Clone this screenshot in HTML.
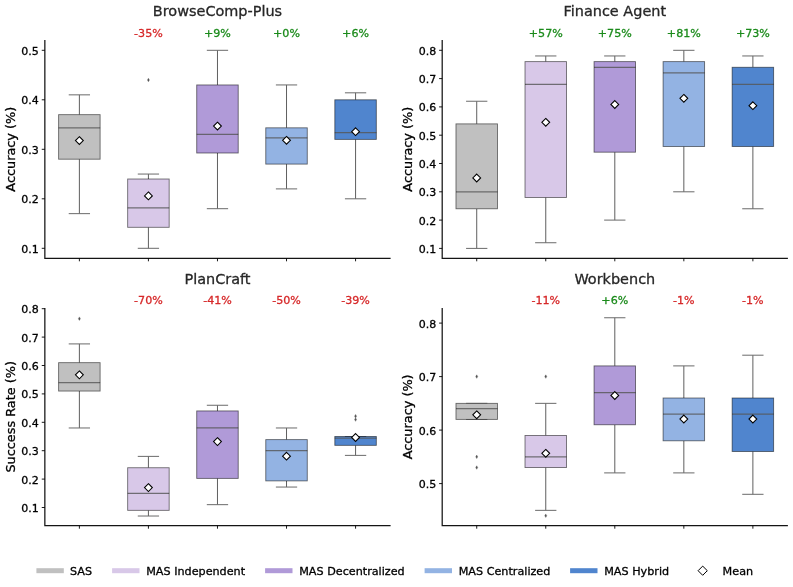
<!DOCTYPE html>
<html lang="en">
<head>
<meta charset="utf-8">
<title>Multi-agent system benchmark comparison</title>
<style>
html,body{margin:0;padding:0;background:#ffffff;}
body{width:793px;height:587px;overflow:hidden;font-family:"DejaVu Sans", "Liberation Sans", sans-serif;}
svg{display:block;}
</style>
</head>
<body>
<svg width="793" height="587" viewBox="0 0 793 587" font-family='"DejaVu Sans", "Liberation Sans", sans-serif'>
<style>text{stroke-width:0.3px;paint-order:stroke;}</style>
<rect width="793" height="587" fill="#ffffff"/>
<g>
<text x="217.48" y="16.3" font-size="14.45" text-anchor="middle" fill="#262626" stroke="#262626">BrowseComp-Plus</text>
<text x="148.42" y="36.55" font-size="11.1" text-anchor="middle" fill="#d62728" stroke="#d62728">-35%</text>
<text x="217.47" y="36.55" font-size="11.1" text-anchor="middle" fill="#1a8a1a" stroke="#1a8a1a">+9%</text>
<text x="286.52" y="36.55" font-size="11.1" text-anchor="middle" fill="#1a8a1a" stroke="#1a8a1a">+0%</text>
<text x="355.57" y="36.55" font-size="11.1" text-anchor="middle" fill="#1a8a1a" stroke="#1a8a1a">+6%</text>
<path d="M79.38 114.65V94.85M79.38 159.2V213.65" stroke="#4d4d4d" stroke-width="0.9" fill="none"/>
<path d="M68.72 94.85H90.03M68.72 213.65H90.03" stroke="#6a6a6a" stroke-width="1" fill="none"/>
<rect x="58.62" y="114.65" width="41.5" height="44.55" fill="#C0C0C0"/>
<path d="M58.62 127.82H100.12" stroke="#555555" stroke-opacity="0.8" stroke-width="1.25" fill="none"/>
<rect x="58.62" y="114.65" width="41.5" height="44.55" fill="none" stroke="#000000" stroke-opacity="0.55" stroke-width="0.9"/>
<path d="M79.38 136.69L83.28 140.59L79.38 144.49L75.47 140.59Z" fill="#ffffff" stroke="#000000" stroke-width="1.08"/>
<path d="M148.42 179V174.05M148.42 227.31V248.3" stroke="#4d4d4d" stroke-width="0.9" fill="none"/>
<path d="M137.77 174.05H159.07M137.77 248.3H159.07" stroke="#6a6a6a" stroke-width="1" fill="none"/>
<rect x="127.67" y="179" width="41.5" height="48.31" fill="#D8C8E8"/>
<path d="M127.67 207.91H169.17" stroke="#555555" stroke-opacity="0.8" stroke-width="1.25" fill="none"/>
<rect x="127.67" y="179" width="41.5" height="48.31" fill="none" stroke="#000000" stroke-opacity="0.55" stroke-width="0.9"/>
<path d="M148.42 78.25L149.42 80L148.42 81.75L147.42 80Z" fill="#555555" stroke="#555555" stroke-width="0.35"/>
<path d="M148.42 191.98L152.32 195.88L148.42 199.78L144.52 195.88Z" fill="#ffffff" stroke="#000000" stroke-width="1.08"/>
<path d="M217.47 84.95V50.3M217.47 153.01V208.7" stroke="#4d4d4d" stroke-width="0.9" fill="none"/>
<path d="M206.82 50.3H228.12M206.82 208.7H228.12" stroke="#6a6a6a" stroke-width="1" fill="none"/>
<rect x="196.72" y="84.95" width="41.5" height="68.06" fill="#B09AD8"/>
<path d="M196.72 134.45H238.22" stroke="#555555" stroke-opacity="0.8" stroke-width="1.25" fill="none"/>
<rect x="196.72" y="84.95" width="41.5" height="68.06" fill="none" stroke="#000000" stroke-opacity="0.55" stroke-width="0.9"/>
<path d="M217.47 122.14L221.38 126.04L217.47 129.94L213.57 126.04Z" fill="#ffffff" stroke="#000000" stroke-width="1.08"/>
<path d="M286.52 127.82V84.95M286.52 164.1V188.9" stroke="#4d4d4d" stroke-width="0.9" fill="none"/>
<path d="M275.88 84.95H297.17M275.88 188.9H297.17" stroke="#6a6a6a" stroke-width="1" fill="none"/>
<rect x="265.77" y="127.82" width="41.5" height="36.28" fill="#93B3E3"/>
<path d="M265.77 137.82H307.27" stroke="#555555" stroke-opacity="0.8" stroke-width="1.25" fill="none"/>
<rect x="265.77" y="127.82" width="41.5" height="36.28" fill="none" stroke="#000000" stroke-opacity="0.55" stroke-width="0.9"/>
<path d="M286.52 136.39L290.42 140.29L286.52 144.19L282.62 140.29Z" fill="#ffffff" stroke="#000000" stroke-width="1.08"/>
<path d="M355.57 99.8V92.82M355.57 139.4V198.8" stroke="#4d4d4d" stroke-width="0.9" fill="none"/>
<path d="M344.93 92.82H366.22M344.93 198.8H366.22" stroke="#6a6a6a" stroke-width="1" fill="none"/>
<rect x="334.82" y="99.8" width="41.5" height="39.6" fill="#5085CE"/>
<path d="M334.82 132.72H376.32" stroke="#555555" stroke-opacity="0.8" stroke-width="1.25" fill="none"/>
<rect x="334.82" y="99.8" width="41.5" height="39.6" fill="none" stroke="#000000" stroke-opacity="0.55" stroke-width="0.9"/>
<path d="M355.57 127.78L359.47 131.68L355.57 135.58L351.68 131.68Z" fill="#ffffff" stroke="#000000" stroke-width="1.08"/>
<path d="M44.85 40.1V258.3H390.6" stroke="#141414" stroke-width="1.25" fill="none" stroke-linecap="butt" stroke-linejoin="miter"/>
<path d="M79.38 258.3v3.0M148.42 258.3v3.0M217.47 258.3v3.0M286.52 258.3v3.0M355.57 258.3v3.0M44.85 248.3h-3.1M44.85 198.8h-3.1M44.85 149.3h-3.1M44.85 99.8h-3.1M44.85 50.3h-3.1" stroke="#000000" stroke-width="0.9" fill="none"/>
<text x="38.85" y="252.7" font-size="11.0" text-anchor="end" fill="#000000" stroke="#000000">0.1</text>
<text x="38.85" y="203.2" font-size="11.0" text-anchor="end" fill="#000000" stroke="#000000">0.2</text>
<text x="38.85" y="153.7" font-size="11.0" text-anchor="end" fill="#000000" stroke="#000000">0.3</text>
<text x="38.85" y="104.2" font-size="11.0" text-anchor="end" fill="#000000" stroke="#000000">0.4</text>
<text x="38.85" y="54.7" font-size="11.0" text-anchor="end" fill="#000000" stroke="#000000">0.5</text>
<text transform="translate(15.2 149.2) rotate(-90)" x="0" y="0" font-size="12.85" text-anchor="middle" fill="#000000" stroke="#000000">Accuracy (%)</text>
</g>
<g>
<text x="614.8" y="16.3" font-size="14.45" text-anchor="middle" fill="#262626" stroke="#262626">Finance Agent</text>
<text x="545.76" y="36.55" font-size="11.1" text-anchor="middle" fill="#1a8a1a" stroke="#1a8a1a">+57%</text>
<text x="614.8" y="36.55" font-size="11.1" text-anchor="middle" fill="#1a8a1a" stroke="#1a8a1a">+75%</text>
<text x="683.84" y="36.55" font-size="11.1" text-anchor="middle" fill="#1a8a1a" stroke="#1a8a1a">+81%</text>
<text x="752.88" y="36.55" font-size="11.1" text-anchor="middle" fill="#1a8a1a" stroke="#1a8a1a">+73%</text>
<path d="M476.72 123.88V101.24M476.72 208.78V248.4" stroke="#4d4d4d" stroke-width="0.9" fill="none"/>
<path d="M466.07 101.24H487.37M466.07 248.4H487.37" stroke="#6a6a6a" stroke-width="1" fill="none"/>
<rect x="455.97" y="123.88" width="41.5" height="84.9" fill="#C0C0C0"/>
<path d="M455.97 191.8H497.47" stroke="#555555" stroke-opacity="0.8" stroke-width="1.25" fill="none"/>
<rect x="455.97" y="123.88" width="41.5" height="84.9" fill="none" stroke="#000000" stroke-opacity="0.55" stroke-width="0.9"/>
<path d="M476.72 174.09L480.62 177.99L476.72 181.89L472.82 177.99Z" fill="#ffffff" stroke="#000000" stroke-width="1.08"/>
<path d="M545.76 61.62V55.96M545.76 197.46V242.74" stroke="#4d4d4d" stroke-width="0.9" fill="none"/>
<path d="M535.11 55.96H556.41M535.11 242.74H556.41" stroke="#6a6a6a" stroke-width="1" fill="none"/>
<rect x="525.01" y="61.62" width="41.5" height="135.84" fill="#D8C8E8"/>
<path d="M525.01 84.26H566.51" stroke="#555555" stroke-opacity="0.8" stroke-width="1.25" fill="none"/>
<rect x="525.01" y="61.62" width="41.5" height="135.84" fill="none" stroke="#000000" stroke-opacity="0.55" stroke-width="0.9"/>
<path d="M545.76 118.4L549.66 122.3L545.76 126.2L541.86 122.3Z" fill="#ffffff" stroke="#000000" stroke-width="1.08"/>
<path d="M614.8 61.62V55.96M614.8 152.18V220.1" stroke="#4d4d4d" stroke-width="0.9" fill="none"/>
<path d="M604.15 55.96H625.45M604.15 220.1H625.45" stroke="#6a6a6a" stroke-width="1" fill="none"/>
<rect x="594.05" y="61.62" width="41.5" height="90.56" fill="#B09AD8"/>
<path d="M594.05 67.28H635.55" stroke="#555555" stroke-opacity="0.8" stroke-width="1.25" fill="none"/>
<rect x="594.05" y="61.62" width="41.5" height="90.56" fill="none" stroke="#000000" stroke-opacity="0.55" stroke-width="0.9"/>
<path d="M614.8 100.59L618.7 104.49L614.8 108.39L610.9 104.49Z" fill="#ffffff" stroke="#000000" stroke-width="1.08"/>
<path d="M683.84 61.62V50.3M683.84 146.52V191.8" stroke="#4d4d4d" stroke-width="0.9" fill="none"/>
<path d="M673.19 50.3H694.49M673.19 191.8H694.49" stroke="#6a6a6a" stroke-width="1" fill="none"/>
<rect x="663.09" y="61.62" width="41.5" height="84.9" fill="#93B3E3"/>
<path d="M663.09 72.94H704.59" stroke="#555555" stroke-opacity="0.8" stroke-width="1.25" fill="none"/>
<rect x="663.09" y="61.62" width="41.5" height="84.9" fill="none" stroke="#000000" stroke-opacity="0.55" stroke-width="0.9"/>
<path d="M683.84 94.4L687.74 98.3L683.84 102.2L679.94 98.3Z" fill="#ffffff" stroke="#000000" stroke-width="1.08"/>
<path d="M752.88 67.28V55.96M752.88 146.52V208.78" stroke="#4d4d4d" stroke-width="0.9" fill="none"/>
<path d="M742.23 55.96H763.53M742.23 208.78H763.53" stroke="#6a6a6a" stroke-width="1" fill="none"/>
<rect x="732.13" y="67.28" width="41.5" height="79.24" fill="#5085CE"/>
<path d="M732.13 84.26H773.63" stroke="#555555" stroke-opacity="0.8" stroke-width="1.25" fill="none"/>
<rect x="732.13" y="67.28" width="41.5" height="79.24" fill="none" stroke="#000000" stroke-opacity="0.55" stroke-width="0.9"/>
<path d="M752.88 101.81L756.78 105.71L752.88 109.61L748.98 105.71Z" fill="#ffffff" stroke="#000000" stroke-width="1.08"/>
<path d="M442.2 40.1V258.3H787.9" stroke="#141414" stroke-width="1.25" fill="none" stroke-linecap="butt" stroke-linejoin="miter"/>
<path d="M476.72 258.3v3.0M545.76 258.3v3.0M614.8 258.3v3.0M683.84 258.3v3.0M752.88 258.3v3.0M442.2 248.4h-3.1M442.2 220.1h-3.1M442.2 191.8h-3.1M442.2 163.5h-3.1M442.2 135.2h-3.1M442.2 106.9h-3.1M442.2 78.6h-3.1M442.2 50.3h-3.1" stroke="#000000" stroke-width="0.9" fill="none"/>
<text x="436.2" y="252.8" font-size="11.0" text-anchor="end" fill="#000000" stroke="#000000">0.1</text>
<text x="436.2" y="224.5" font-size="11.0" text-anchor="end" fill="#000000" stroke="#000000">0.2</text>
<text x="436.2" y="196.2" font-size="11.0" text-anchor="end" fill="#000000" stroke="#000000">0.3</text>
<text x="436.2" y="167.9" font-size="11.0" text-anchor="end" fill="#000000" stroke="#000000">0.4</text>
<text x="436.2" y="139.6" font-size="11.0" text-anchor="end" fill="#000000" stroke="#000000">0.5</text>
<text x="436.2" y="111.3" font-size="11.0" text-anchor="end" fill="#000000" stroke="#000000">0.6</text>
<text x="436.2" y="83" font-size="11.0" text-anchor="end" fill="#000000" stroke="#000000">0.7</text>
<text x="436.2" y="54.7" font-size="11.0" text-anchor="end" fill="#000000" stroke="#000000">0.8</text>
<text transform="translate(411.9 149.2) rotate(-90)" x="0" y="0" font-size="12.85" text-anchor="middle" fill="#000000" stroke="#000000">Accuracy (%)</text>
</g>
<g>
<text x="217.48" y="284.2" font-size="14.45" text-anchor="middle" fill="#262626" stroke="#262626">PlanCraft</text>
<text x="148.42" y="303.5" font-size="11.1" text-anchor="middle" fill="#d62728" stroke="#d62728">-70%</text>
<text x="217.47" y="303.5" font-size="11.1" text-anchor="middle" fill="#d62728" stroke="#d62728">-41%</text>
<text x="286.52" y="303.5" font-size="11.1" text-anchor="middle" fill="#d62728" stroke="#d62728">-50%</text>
<text x="355.57" y="303.5" font-size="11.1" text-anchor="middle" fill="#d62728" stroke="#d62728">-39%</text>
<path d="M79.38 362.66V343.92M79.38 391.06V427.98" stroke="#4d4d4d" stroke-width="0.9" fill="none"/>
<path d="M68.72 343.92H90.03M68.72 427.98H90.03" stroke="#6a6a6a" stroke-width="1" fill="none"/>
<rect x="58.62" y="362.66" width="41.5" height="28.4" fill="#C0C0C0"/>
<path d="M58.62 382.54H100.12" stroke="#555555" stroke-opacity="0.8" stroke-width="1.25" fill="none"/>
<rect x="58.62" y="362.66" width="41.5" height="28.4" fill="none" stroke="#000000" stroke-opacity="0.55" stroke-width="0.9"/>
<path d="M79.38 316.89L80.38 318.64L79.38 320.39L78.38 318.64Z" fill="#555555" stroke="#555555" stroke-width="0.35"/>
<path d="M79.38 370.97L83.28 374.87L79.38 378.77L75.47 374.87Z" fill="#ffffff" stroke="#000000" stroke-width="1.08"/>
<path d="M148.42 467.74V456.38M148.42 510.34V516.02" stroke="#4d4d4d" stroke-width="0.9" fill="none"/>
<path d="M137.77 456.38H159.07M137.77 516.02H159.07" stroke="#6a6a6a" stroke-width="1" fill="none"/>
<rect x="127.67" y="467.74" width="41.5" height="42.6" fill="#D8C8E8"/>
<path d="M127.67 493.3H169.17" stroke="#555555" stroke-opacity="0.8" stroke-width="1.25" fill="none"/>
<rect x="127.67" y="467.74" width="41.5" height="42.6" fill="none" stroke="#000000" stroke-opacity="0.55" stroke-width="0.9"/>
<path d="M148.42 483.72L152.32 487.62L148.42 491.52L144.52 487.62Z" fill="#ffffff" stroke="#000000" stroke-width="1.08"/>
<path d="M217.47 410.94V405.26M217.47 478.39V504.66" stroke="#4d4d4d" stroke-width="0.9" fill="none"/>
<path d="M206.82 405.26H228.12M206.82 504.66H228.12" stroke="#6a6a6a" stroke-width="1" fill="none"/>
<rect x="196.72" y="410.94" width="41.5" height="67.45" fill="#B09AD8"/>
<path d="M196.72 427.98H238.22" stroke="#555555" stroke-opacity="0.8" stroke-width="1.25" fill="none"/>
<rect x="196.72" y="410.94" width="41.5" height="67.45" fill="none" stroke="#000000" stroke-opacity="0.55" stroke-width="0.9"/>
<path d="M217.47 437.71L221.38 441.61L217.47 445.51L213.57 441.61Z" fill="#ffffff" stroke="#000000" stroke-width="1.08"/>
<path d="M286.52 439.62V427.98M286.52 480.89V487.05" stroke="#4d4d4d" stroke-width="0.9" fill="none"/>
<path d="M275.88 427.98H297.17M275.88 487.05H297.17" stroke="#6a6a6a" stroke-width="1" fill="none"/>
<rect x="265.77" y="439.62" width="41.5" height="41.27" fill="#93B3E3"/>
<path d="M265.77 450.7H307.27" stroke="#555555" stroke-opacity="0.8" stroke-width="1.25" fill="none"/>
<rect x="265.77" y="439.62" width="41.5" height="41.27" fill="none" stroke="#000000" stroke-opacity="0.55" stroke-width="0.9"/>
<path d="M286.52 452.31L290.42 456.21L286.52 460.11L282.62 456.21Z" fill="#ffffff" stroke="#000000" stroke-width="1.08"/>
<path d="M355.57 436.5V436.5M355.57 445.36V455.39" stroke="#4d4d4d" stroke-width="0.9" fill="none"/>
<path d="M344.93 436.5H366.22M344.93 455.39H366.22" stroke="#6a6a6a" stroke-width="1" fill="none"/>
<rect x="334.82" y="436.5" width="41.5" height="8.86" fill="#5085CE"/>
<path d="M334.82 438.01H376.32" stroke="#555555" stroke-opacity="0.8" stroke-width="1.25" fill="none"/>
<rect x="334.82" y="436.5" width="41.5" height="8.86" fill="none" stroke="#000000" stroke-opacity="0.55" stroke-width="0.9"/>
<path d="M355.57 417.85L356.57 419.6L355.57 421.35L354.57 419.6Z" fill="#555555" stroke="#555555" stroke-width="0.35"/>
<path d="M355.57 414.44L356.57 416.19L355.57 417.94L354.57 416.19Z" fill="#555555" stroke="#555555" stroke-width="0.35"/>
<path d="M355.57 433.59L359.47 437.49L355.57 441.39L351.68 437.49Z" fill="#ffffff" stroke="#000000" stroke-width="1.08"/>
<path d="M44.85 308V525.7H390.6" stroke="#141414" stroke-width="1.25" fill="none" stroke-linecap="butt" stroke-linejoin="miter"/>
<path d="M79.38 525.7v3.0M148.42 525.7v3.0M217.47 525.7v3.0M286.52 525.7v3.0M355.57 525.7v3.0M44.85 507.5h-3.1M44.85 479.1h-3.1M44.85 450.7h-3.1M44.85 422.3h-3.1M44.85 393.9h-3.1M44.85 365.5h-3.1M44.85 337.1h-3.1M44.85 308.7h-3.1" stroke="#000000" stroke-width="0.9" fill="none"/>
<text x="38.85" y="511.9" font-size="11.0" text-anchor="end" fill="#000000" stroke="#000000">0.1</text>
<text x="38.85" y="483.5" font-size="11.0" text-anchor="end" fill="#000000" stroke="#000000">0.2</text>
<text x="38.85" y="455.1" font-size="11.0" text-anchor="end" fill="#000000" stroke="#000000">0.3</text>
<text x="38.85" y="426.7" font-size="11.0" text-anchor="end" fill="#000000" stroke="#000000">0.4</text>
<text x="38.85" y="398.3" font-size="11.0" text-anchor="end" fill="#000000" stroke="#000000">0.5</text>
<text x="38.85" y="369.9" font-size="11.0" text-anchor="end" fill="#000000" stroke="#000000">0.6</text>
<text x="38.85" y="341.5" font-size="11.0" text-anchor="end" fill="#000000" stroke="#000000">0.7</text>
<text x="38.85" y="313.1" font-size="11.0" text-anchor="end" fill="#000000" stroke="#000000">0.8</text>
<text transform="translate(15.2 416.85) rotate(-90)" x="0" y="0" font-size="12.85" text-anchor="middle" fill="#000000" stroke="#000000">Success Rate (%)</text>
</g>
<g>
<text x="614.8" y="284.2" font-size="14.45" text-anchor="middle" fill="#262626" stroke="#262626">Workbench</text>
<text x="545.76" y="303.5" font-size="11.1" text-anchor="middle" fill="#d62728" stroke="#d62728">-11%</text>
<text x="614.8" y="303.5" font-size="11.1" text-anchor="middle" fill="#1a8a1a" stroke="#1a8a1a">+6%</text>
<text x="683.84" y="303.5" font-size="11.1" text-anchor="middle" fill="#d62728" stroke="#d62728">-1%</text>
<text x="752.88" y="303.5" font-size="11.1" text-anchor="middle" fill="#d62728" stroke="#d62728">-1%</text>
<path d="M476.72 403.35V403.35M476.72 419.4V419.4" stroke="#4d4d4d" stroke-width="0.9" fill="none"/>
<path d="M466.07 403.35H487.37M466.07 419.4H487.37" stroke="#6a6a6a" stroke-width="1" fill="none"/>
<rect x="455.97" y="403.35" width="41.5" height="16.05" fill="#C0C0C0"/>
<path d="M455.97 408.7H497.47" stroke="#555555" stroke-opacity="0.8" stroke-width="1.25" fill="none"/>
<rect x="455.97" y="403.35" width="41.5" height="16.05" fill="none" stroke="#000000" stroke-opacity="0.55" stroke-width="0.9"/>
<path d="M476.72 374.85L477.72 376.6L476.72 378.35L475.72 376.6Z" fill="#555555" stroke="#555555" stroke-width="0.35"/>
<path d="M476.72 455.1L477.72 456.85L476.72 458.6L475.72 456.85Z" fill="#555555" stroke="#555555" stroke-width="0.35"/>
<path d="M476.72 465.8L477.72 467.55L476.72 469.3L475.72 467.55Z" fill="#555555" stroke="#555555" stroke-width="0.35"/>
<path d="M476.72 410.9L480.62 414.8L476.72 418.7L472.82 414.8Z" fill="#ffffff" stroke="#000000" stroke-width="1.08"/>
<path d="M545.76 435.45V403.35M545.76 467.55V510.35" stroke="#4d4d4d" stroke-width="0.9" fill="none"/>
<path d="M535.11 403.35H556.41M535.11 510.35H556.41" stroke="#6a6a6a" stroke-width="1" fill="none"/>
<rect x="525.01" y="435.45" width="41.5" height="32.1" fill="#D8C8E8"/>
<path d="M525.01 456.85H566.51" stroke="#555555" stroke-opacity="0.8" stroke-width="1.25" fill="none"/>
<rect x="525.01" y="435.45" width="41.5" height="32.1" fill="none" stroke="#000000" stroke-opacity="0.55" stroke-width="0.9"/>
<path d="M545.76 374.85L546.76 376.6L545.76 378.35L544.76 376.6Z" fill="#555555" stroke="#555555" stroke-width="0.35"/>
<path d="M545.76 513.95L546.76 515.7L545.76 517.45L544.76 515.7Z" fill="#555555" stroke="#555555" stroke-width="0.35"/>
<path d="M545.76 449.42L549.66 453.32L545.76 457.22L541.86 453.32Z" fill="#ffffff" stroke="#000000" stroke-width="1.08"/>
<path d="M614.8 365.9V317.75M614.8 424.75V472.9" stroke="#4d4d4d" stroke-width="0.9" fill="none"/>
<path d="M604.15 317.75H625.45M604.15 472.9H625.45" stroke="#6a6a6a" stroke-width="1" fill="none"/>
<rect x="594.05" y="365.9" width="41.5" height="58.85" fill="#B09AD8"/>
<path d="M594.05 392.65H635.55" stroke="#555555" stroke-opacity="0.8" stroke-width="1.25" fill="none"/>
<rect x="594.05" y="365.9" width="41.5" height="58.85" fill="none" stroke="#000000" stroke-opacity="0.55" stroke-width="0.9"/>
<path d="M614.8 391.59L618.7 395.49L614.8 399.39L610.9 395.49Z" fill="#ffffff" stroke="#000000" stroke-width="1.08"/>
<path d="M683.84 398V365.9M683.84 440.8V472.9" stroke="#4d4d4d" stroke-width="0.9" fill="none"/>
<path d="M673.19 365.9H694.49M673.19 472.9H694.49" stroke="#6a6a6a" stroke-width="1" fill="none"/>
<rect x="663.09" y="398" width="41.5" height="42.8" fill="#93B3E3"/>
<path d="M663.09 414.05H704.59" stroke="#555555" stroke-opacity="0.8" stroke-width="1.25" fill="none"/>
<rect x="663.09" y="398" width="41.5" height="42.8" fill="none" stroke="#000000" stroke-opacity="0.55" stroke-width="0.9"/>
<path d="M683.84 415.13L687.74 419.03L683.84 422.93L679.94 419.03Z" fill="#ffffff" stroke="#000000" stroke-width="1.08"/>
<path d="M752.88 398V355.2M752.88 451.5V494.3" stroke="#4d4d4d" stroke-width="0.9" fill="none"/>
<path d="M742.23 355.2H763.53M742.23 494.3H763.53" stroke="#6a6a6a" stroke-width="1" fill="none"/>
<rect x="732.13" y="398" width="41.5" height="53.5" fill="#5085CE"/>
<path d="M732.13 414.05H773.63" stroke="#555555" stroke-opacity="0.8" stroke-width="1.25" fill="none"/>
<rect x="732.13" y="398" width="41.5" height="53.5" fill="none" stroke="#000000" stroke-opacity="0.55" stroke-width="0.9"/>
<path d="M752.88 415.13L756.78 419.03L752.88 422.93L748.98 419.03Z" fill="#ffffff" stroke="#000000" stroke-width="1.08"/>
<path d="M442.2 308V525.7H787.9" stroke="#141414" stroke-width="1.25" fill="none" stroke-linecap="butt" stroke-linejoin="miter"/>
<path d="M476.72 525.7v3.0M545.76 525.7v3.0M614.8 525.7v3.0M683.84 525.7v3.0M752.88 525.7v3.0M442.2 483.6h-3.1M442.2 430.1h-3.1M442.2 376.6h-3.1M442.2 323.1h-3.1" stroke="#000000" stroke-width="0.9" fill="none"/>
<text x="436.2" y="488" font-size="11.0" text-anchor="end" fill="#000000" stroke="#000000">0.5</text>
<text x="436.2" y="434.5" font-size="11.0" text-anchor="end" fill="#000000" stroke="#000000">0.6</text>
<text x="436.2" y="381" font-size="11.0" text-anchor="end" fill="#000000" stroke="#000000">0.7</text>
<text x="436.2" y="327.5" font-size="11.0" text-anchor="end" fill="#000000" stroke="#000000">0.8</text>
<text transform="translate(411.9 416.85) rotate(-90)" x="0" y="0" font-size="12.85" text-anchor="middle" fill="#000000" stroke="#000000">Accuracy (%)</text>
</g>
<g>
<rect x="36.4" y="568.2" width="27.4" height="5" fill="#C0C0C0"/>
<text x="70" y="574.7" font-size="11.2" fill="#000000" stroke="#000000">SAS</text>
<rect x="112.1" y="568.2" width="27.4" height="5" fill="#D8C8E8"/>
<text x="146.2" y="574.7" font-size="11.2" fill="#000000" stroke="#000000">MAS Independent</text>
<rect x="265.1" y="568.2" width="27.4" height="5" fill="#B09AD8"/>
<text x="299.2" y="574.7" font-size="11.2" fill="#000000" stroke="#000000">MAS Decentralized</text>
<rect x="424.6" y="568.2" width="27.4" height="5" fill="#93B3E3"/>
<text x="458.7" y="574.7" font-size="11.2" fill="#000000" stroke="#000000">MAS Centralized</text>
<rect x="570.1" y="568.2" width="27.4" height="5" fill="#5085CE"/>
<text x="604.2" y="574.7" font-size="11.2" fill="#000000" stroke="#000000">MAS Hybrid</text>
<path d="M702.7 566.1L707.3 570.7L702.7 575.3L698.1 570.7Z" fill="#ffffff" stroke="#000000" stroke-width="1"/>
<text x="722.6" y="574.7" font-size="11.2" fill="#000000" stroke="#000000">Mean</text>
</g>
</svg>
</body>
</html>
